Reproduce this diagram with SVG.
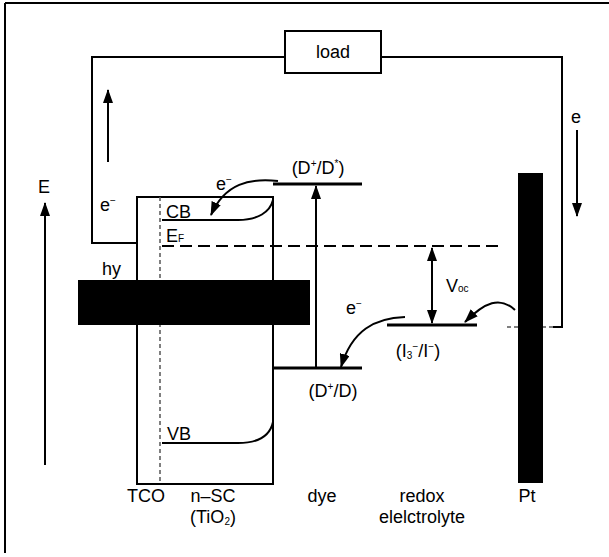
<svg xmlns="http://www.w3.org/2000/svg" width="609" height="557" viewBox="0 0 609 557">
<defs>
<marker id="ah" viewBox="0 0 14 10" refX="13" refY="5" markerWidth="14" markerHeight="10" markerUnits="userSpaceOnUse" orient="auto"><path d="M0,0 L14,5 L0,10 z" fill="#000"/></marker>
<marker id="ahs" viewBox="0 0 14 10" refX="13" refY="5" markerWidth="14" markerHeight="10" markerUnits="userSpaceOnUse" orient="auto-start-reverse"><path d="M0,0 L14,5 L0,10 z" fill="#000"/></marker>
</defs>
<style>
text{font-family:"Liberation Sans",Arial,sans-serif;fill:#000;font-size:18px}
.w{fill:none;stroke:#000;stroke-width:2}
.lvl{fill:none;stroke:#000;stroke-width:3}
.dash{fill:none;stroke:#000;stroke-width:2;stroke-dasharray:12 6}
.dot{fill:none;stroke:#555;stroke-width:1.5;stroke-dasharray:4 3}
.blk{fill:#000}
.s{font-size:10px}
</style>
<rect width="609" height="557" fill="#fff"/>
<g id="frame"><path class="w" d="M5,3 H609 M5,3 V553" stroke-width="1.5"/></g>
<g id="load"><rect x="285" y="31" width="96" height="42" class="w"/><text x="333" y="58" text-anchor="middle" font-size="17">load</text></g>
<g id="nsc"><rect x="137" y="197" width="136" height="287" class="w"/></g>
<g id="tco"><line x1="160" y1="197" x2="160" y2="484" class="dot"/></g>
<g id="light"><rect x="78" y="280" width="232" height="45" class="blk"/><text x="102" y="275">hy</text></g>
<g id="pt"><rect x="518" y="173" width="25" height="310" class="blk"/></g>
<g id="axis"><text x="38" y="193">E</text></g>
<g id="connectors">
<path class="w" d="M285,57 H92 V243 H137"/>
<path class="w" d="M381,57 H562 V327 H553"/>
<path class="dot" d="M553,327 H543 M518,327 H505"/>
<line x1="108" y1="162" x2="108" y2="90" class="w" marker-end="url(#ah)"/>
<line x1="577" y1="130" x2="577" y2="216" class="w" marker-end="url(#ah)"/>
<line x1="45" y1="465" x2="45" y2="203" class="w" marker-end="url(#ah)"/>
<path class="w" d="M162,220 H238 C258,220 270,212 273,200"/>
<path class="w" d="M162,443 H238 C258,443 270,436 273,422"/>
<line x1="162" y1="246" x2="500" y2="246" class="dash"/>
<path class="w" d="M278,181 C250,178 225,183 211,215" marker-end="url(#ah)"/>
<line x1="273" y1="184" x2="362" y2="184" class="lvl"/>
<line x1="273" y1="368" x2="362" y2="368" class="lvl"/>
<line x1="387" y1="325" x2="477" y2="325" class="lvl"/>
<line x1="316" y1="367" x2="316" y2="186" class="w" marker-end="url(#ah)"/>
<line x1="432" y1="248" x2="432" y2="323" class="w" marker-start="url(#ahs)" marker-end="url(#ah)"/>
<path class="w" d="M405,317 C375,318 352,330 341,367" marker-end="url(#ah)"/>
<path class="w" d="M515,310 C500,296 485,302 465,322" marker-end="url(#ah)"/>
</g>
<g id="labels">
<text x="100" y="211">e<tspan class="s" dy="-7">−</tspan></text>
<text x="571" y="123">e</text>
<text x="216" y="190">e<tspan class="s" dy="-7">−</tspan></text>
<text x="166" y="218">CB</text>
<text x="166" y="242">E<tspan class="s">F</tspan></text>
<text x="167" y="440">VB</text>
<text x="318" y="174" text-anchor="middle">(D<tspan class="s" dy="-7">+</tspan><tspan dy="7">/D</tspan><tspan class="s" dy="-7">*</tspan><tspan dy="7">)</tspan></text>
<text x="333" y="397" text-anchor="middle">(D<tspan class="s" dy="-7">+</tspan><tspan dy="7">/D)</tspan></text>
<text x="346" y="314">e<tspan class="s" dy="-7">−</tspan></text>
<text x="446" y="292">V<tspan class="s">oc</tspan></text>
<text x="418" y="357" text-anchor="middle">(I<tspan class="s" dy="2">3</tspan><tspan class="s" dy="-9">−</tspan><tspan dy="7">/I</tspan><tspan class="s" dy="-7">−</tspan><tspan dy="7">)</tspan></text>
<text x="146" y="502" text-anchor="middle">TCO</text>
<text x="213" y="502" text-anchor="middle">n–SC</text>
<text x="213" y="523" text-anchor="middle">(TiO<tspan class="s" dy="2">2</tspan><tspan dy="-2">)</tspan></text>
<text x="322" y="502" text-anchor="middle">dye</text>
<text x="422" y="502" text-anchor="middle">redox</text>
<text x="422" y="523" text-anchor="middle">elelctrolyte</text>
<text x="527" y="502" text-anchor="middle">Pt</text>
</g>
</svg>
